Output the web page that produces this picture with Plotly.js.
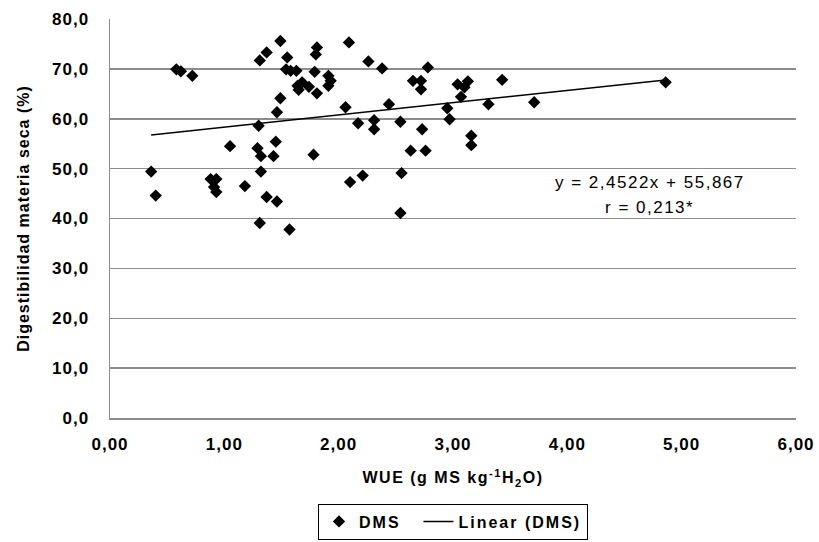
<!DOCTYPE html>
<html><head><meta charset="utf-8">
<script src="https://cdn.plot.ly/plotly-3.0.1.min.js"></script>
<style>
html,body{margin:0;padding:0;background:#fff;}
#chart{width:819px;height:542px;}
.xtick text, .ytick text{letter-spacing:1px;}
.g-xtitle text{letter-spacing:1.5px;}
.g-ytitle text{letter-spacing:1px;}
.legendtext{letter-spacing:2px;}
.annotation-text{letter-spacing:1.5px;}
</style></head><body><div id="chart"></div>
<script>
// WUE (g MS kg-1 H2O)
const wue = [0.36,0.40,0.58,0.62,0.72,0.88,0.93,0.91,0.93,1.05,1.18,1.31,1.37,1.30,1.29,1.32,1.32,1.31,1.37,1.46,1.45,1.43,1.46,1.49,1.49,1.55,1.54,1.58,1.63,1.64,1.68,1.65,1.74,1.81,1.78,1.57,1.79,1.81,1.80,1.91,1.93,1.91,2.09,2.06,2.10,2.26,2.38,2.17,2.31,2.31,2.44,2.21,2.54,2.55,2.54,2.65,2.72,2.72,2.78,2.73,2.63,2.76,2.95,2.97,3.04,3.13,3.10,3.07,3.16,3.16,3.31,3.43,3.71,4.86];
// Digestibilidad materia seca (%)
const dms = [49.4,44.6,69.9,69.5,68.6,47.9,47.9,46.3,45.3,54.5,46.5,71.7,73.3,58.6,54.1,52.5,49.4,39.1,44.3,43.4,55.4,52.5,61.3,64.1,75.6,72.3,69.9,69.6,69.6,66.6,67.3,65.8,66.4,65.1,52.8,37.8,69.4,74.3,72.9,68.6,67.6,66.6,75.3,62.3,47.3,71.5,70.1,59.1,59.7,57.9,62.9,48.6,59.4,49.1,41.1,67.6,67.6,65.9,70.3,57.9,53.6,53.6,62.1,59.9,66.9,67.5,66.3,64.4,56.6,54.7,62.9,67.8,63.3,67.3];
// Linear trend (DMS): y = 2,4522x + 55,867 drawn between min and max WUE
const trendX = [0.36, 4.86];
const trendY = [56.75, 67.78];

const xTickVals = [0,1,2,3,4,5,6];
const xTickText = ['0,00','1,00','2,00','3,00','4,00','5,00','6,00'];
const yTickVals = [0,10,20,30,40,50,60,70,80];
const yTickText = ['0,0','10,0','20,0','30,0','40,0','50,0','60,0','70,0','80,0'];

const eqText = 'y = 2,4522x + 55,867';
const rText = 'r = 0,213*';

const FONT = 'Liberation Sans, Arial, sans-serif';
const GRID = '#8c8c8c';

const traces = [
  {x: wue, y: dms, type: 'scatter', mode: 'markers', name: 'DMS\u00a0\u00a0',
   marker: {symbol: 'diamond', size: 9.5, color: '#000'}},
  {x: trendX, y: trendY, type: 'scatter', mode: 'lines', name: 'Linear (DMS)',
   line: {color: '#000', width: 1.5}}
];

const layout = {
  width: 819, height: 542,
  paper_bgcolor: '#fff', plot_bgcolor: '#fff',
  margin: {l: 110, r: 23, t: 19, b: 124},
  font: {family: FONT, color: '#000'},
  xaxis: {
    range: [0, 6], tickvals: xTickVals, ticktext: xTickText,
    showgrid: false, zeroline: false, showline: true, linecolor: GRID, linewidth: 1.5,
    ticks: '', ticklabelstandoff: 10,
    tickfont: {family: FONT, size: 17, weight: 'bold', color: '#000'},
    title: {text: 'WUE (g MS kg<sup>-1</sup>H<sub>2</sub>O)', standoff: 19,
            font: {family: FONT, size: 16, weight: 'bold', color: '#000'}}
  },
  yaxis: {
    range: [0, 80], tickvals: yTickVals, ticktext: yTickText,
    showgrid: true, gridcolor: GRID, gridwidth: 1.5,
    zeroline: false, showline: true, linecolor: GRID, linewidth: 1.5,
    ticks: '', ticklabelstandoff: 16,
    tickfont: {family: FONT, size: 17, weight: 'bold', color: '#000'},
    title: {text: 'Digestibilidad materia seca (%)', standoff: 18,
            font: {family: FONT, size: 16, weight: 'bold', color: '#000'}}
  },
  showlegend: true,
  legend: {
    orientation: 'h', x: 0.5, xanchor: 'center', xref: 'paper',
    y: 0.071, yanchor: 'top', yref: 'container',
    bordercolor: '#000', borderwidth: 1, bgcolor: '#fff',
    font: {family: FONT, size: 16, weight: 'bold', color: '#000'}
  },
  annotations: [
    {x: 4.72, y: 47.3, xref: 'x', yref: 'y', text: eqText, showarrow: false,
     font: {family: FONT, size: 17, color: '#000'}},
    {x: 4.72, y: 42.3, xref: 'x', yref: 'y', text: rText, showarrow: false,
     font: {family: FONT, size: 17, color: '#000'}}
  ]
};

Plotly.newPlot('chart', traces, layout, {staticPlot: true, displayModeBar: false});
</script></body></html>
